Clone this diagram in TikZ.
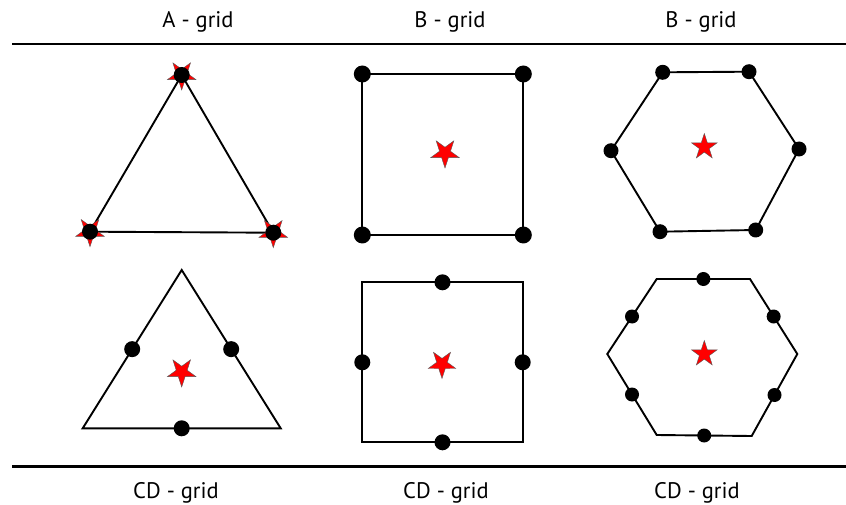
\documentclass[tikz,border=0pt]{standalone}
\usepackage{fontspec}
\setmainfont{PT Sans}
\usetikzlibrary{shapes.geometric,calc}
\tikzset{
  dotA/.style={circle,fill=black,inner sep=0pt,minimum size=#1},
  dotA/.default=16pt,
  redstar/.style={star,star points=5,star point ratio=2.6,fill=red,draw=black!65,line width=0.4pt,inner sep=0pt,minimum size=#1},
  redstar/.default=28pt,
  downstar/.style={redstar=#1,shape border rotate=180},
  downstar/.default=28pt,
  cell/.style={line width=1.9pt,line join=miter},
  rule/.style={line width=2.8pt},
  lbl/.style={font=\fontsize{22.5}{26}\selectfont,anchor=base,inner sep=0pt}
}
\begin{document}
\begin{tikzpicture}[x=1pt,y=-1pt]
\useasboundingbox (0,0) rectangle (846,505);
% rules
\coordinate (r1a) at (12,44); \coordinate (r1b) at (846,44);
\coordinate (r2a) at (12,466.5); \coordinate (r2b) at (846,466.5);
\draw[rule] (r1a) -- (r1b);
\draw[rule] (r2a) -- (r2b);
% labels
\node[lbl] (lA) at (198,27.5) {A - grid};
\node[lbl] (lB1) at (450,27.5) {B - grid};
\node[lbl] (lB2) at (701,27.5) {B - grid};
\node[lbl] (lC1) at (176,498) {CD - grid};
\node[lbl] (lC2) at (446,498) {CD - grid};
\node[lbl] (lC3) at (697,498) {CD - grid};

% ---- A grid triangle
\coordinate (ta) at (181.7,75);
\coordinate (tb) at (90,231.7);
\coordinate (tc) at (273.3,232.7);
\draw[cell] (ta) -- (tb) -- (tc) -- cycle;
\foreach \p in {ta,tb,tc}{\node[downstar=30pt] (s\p) at (\p) {};}
\foreach \p in {ta,tb,tc}{\node[dotA=16pt] (d\p) at (\p) {};}

% ---- B grid square
\coordinate (qa) at (362.3,74);
\coordinate (qb) at (523.3,74);
\coordinate (qc) at (523.3,235);
\coordinate (qd) at (362.3,235);
\draw[cell] (qa) -- (qb) -- (qc) -- (qd) -- cycle;
\foreach \p in {qa,qb,qc,qd}{\node[dotA=17pt] (d\p) at (\p) {};}
\node[downstar=30pt] (sq) at (445,153) {};

% ---- B grid hexagon
\coordinate (ha) at (662.7,72.3);
\coordinate (hb) at (749,71.7);
\coordinate (hc) at (799,149);
\coordinate (hd) at (755.7,230);
\coordinate (he) at (660,231.7);
\coordinate (hf) at (611,150.7);
\draw[cell] (ha) -- (hb) -- (hc) -- (hd) -- (he) -- (hf) -- cycle;
\foreach \p in {ha,hb,hc,hd,he,hf}{\node[dotA=15pt] (d\p) at (\p) {};}
\node[redstar=27pt] (sh) at (704.3,147) {};

% ---- CD grid triangle
\coordinate (ua) at (181.7,270);
\coordinate (ub) at (82.7,428.3);
\coordinate (uc) at (280.7,428.3);
\draw[cell] (ua) -- (ub) -- (uc) -- cycle;
\node[dotA=16pt] (u1) at ($(ua)!0.5!(ub)$) {};
\node[dotA=16pt] (u2) at ($(ua)!0.5!(uc)$) {};
\node[dotA=16pt] (u3) at ($(ub)!0.5!(uc)$) {};
\node[downstar=30pt] (su) at (181.7,372) {};

% ---- CD grid square
\coordinate (va) at (362.3,282.3);
\coordinate (vb) at (522.7,282.3);
\coordinate (vc) at (522.7,442.3);
\coordinate (vd) at (362.3,442.3);
\draw[cell] (va) -- (vb) -- (vc) -- (vd) -- cycle;
\node[dotA=16pt] (v1) at ($(va)!0.5!(vb)$) {};
\node[dotA=16pt] (v2) at ($(vb)!0.5!(vc)$) {};
\node[dotA=16pt] (v3) at ($(vc)!0.5!(vd)$) {};
\node[dotA=16pt] (v4) at ($(vd)!0.5!(va)$) {};
\node[downstar=29pt] (sv) at (442,364) {};

% ---- CD grid hexagon
\coordinate (wa) at (656.7,279);
\coordinate (wb) at (750,279);
\coordinate (wc) at (797.3,354);
\coordinate (wd) at (751.7,436);
\coordinate (we) at (656.7,435);
\coordinate (wf) at (607.3,354);
\draw[cell] (wa) -- (wb) -- (wc) -- (wd) -- (we) -- (wf) -- cycle;
\node[dotA=14pt] (w1) at ($(wa)!0.5!(wb)$) {};
\node[dotA=14pt] (w2) at ($(wb)!0.5!(wc)$) {};
\node[dotA=14pt] (w3) at ($(wc)!0.5!(wd)$) {};
\node[dotA=14pt] (w4) at ($(wd)!0.5!(we)$) {};
\node[dotA=14pt] (w5) at ($(we)!0.5!(wf)$) {};
\node[dotA=14pt] (w6) at ($(wf)!0.5!(wa)$) {};
\node[redstar=27pt] (sw) at (704.3,354) {};
\end{tikzpicture}
\end{document}
